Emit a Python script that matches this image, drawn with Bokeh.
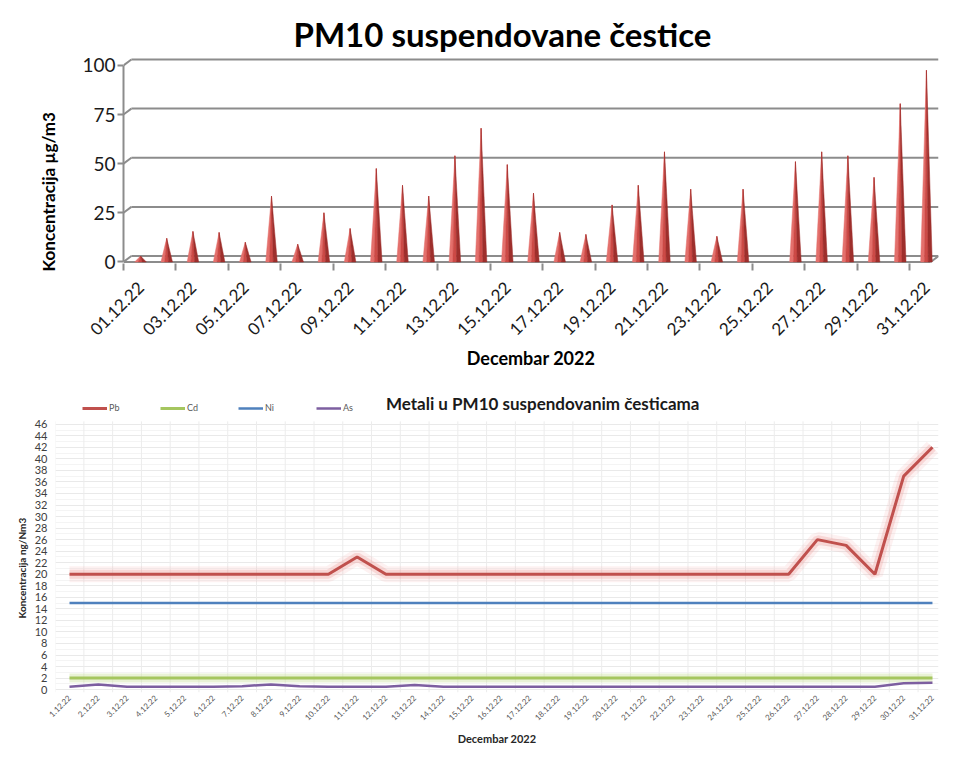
import math
from bokeh.plotting import figure
from bokeh.layouts import column
from bokeh.models import FixedTicker, Legend, LegendItem, Range1d, Title, Label
from bokeh.embed import file_html
from bokeh.resources import INLINE

# ---------------- data ----------------
days = list(range(1, 32))
pm10 = [3, 12, 15.5, 15, 10, 33.5, 9, 25, 17, 47.5, 39, 33.5, 54, 68, 49.5, 35,
        15, 14, 29, 39, 56, 37, 13, 37, None, 51, 56, 54, 43, 80.5, 97.5]
pm10_tick_days = [1, 3, 5, 7, 9, 11, 13, 15, 17, 19, 21, 23, 25, 27, 29, 31]
pm10_tick_labels = ["01.12.22", "03.12.22", "05.12.22", "07.12.22", "09.12.22",
                    "11.12.22", "13.12.22", "15.12.22", "17.12.22", "19.12.22",
                    "21.12.22", "23.12.22", "25.12.22", "27.12.22", "29.12.22",
                    "31.12.22"]
pm10_y_ticks = [0, 25, 50, 75, 100]

metal_dates = ["1.12.22", "2.12.22", "3.12.22", "4.12.22", "5.12.22", "6.12.22",
               "7.12.22", "8.12.22", "9.12.22", "10.12.22", "11.12.22", "12.12.22",
               "13.12.22", "14.12.22", "15.12.22", "16.12.22", "17.12.22", "18.12.22",
               "19.12.22", "20.12.22", "21.12.22", "22.12.22", "23.12.22", "24.12.22",
               "25.12.22", "26.12.22", "27.12.22", "28.12.22", "29.12.22", "30.12.22",
               "31.12.22"]
pb = [20, 20, 20, 20, 20, 20, 20, 20, 20, 20, 23, 20, 20, 20, 20, 20, 20, 20, 20, 20,
      20, 20, 20, 20, 20, 20, 26, 25, 20, 37, 42]
cd = [2, 2, 2, 2, 2, 2, 2, 2, 2, 2, 2, 2, 2, 2, 2, 2, 2, 2, 2, 2, 2, 2, 2, 2, 2, 2,
      2, 2, 2, 2, 2]
ni = [15, 15, 15, 15, 15, 15, 15, 15, 15, 15, 15, 15, 15, 15, 15, 15, 15, 15, 15, 15,
      15, 15, 15, 15, 15, 15, 15, 15, 15, 15, 15]
as_ = [0.5, 0.9, 0.5, 0.5, 0.5, 0.5, 0.6, 0.9, 0.6, 0.5, 0.5, 0.5, 0.8, 0.5, 0.5, 0.5,
       0.5, 0.5, 0.5, 0.5, 0.5, 0.5, 0.5, 0.5, 0.5, 0.5, 0.5, 0.5, 0.5, 1.1, 1.2]
metal_y_ticks = list(range(0, 47, 2))

FONT = "Lato"
GRID = "#8c8c8c"

# ---------------- top: PM10 cones ----------------
X0, X1 = 0.35, 31.46
p1 = figure(width=940, height=380, x_range=Range1d(X0, X1), y_range=Range1d(-0.8, 104),
            output_backend="svg", toolbar_location=None, frame_align=False,
            min_border_left=123, min_border_right=2, min_border_top=57, min_border_bottom=117)
p1.outline_line_color = None
p1.xgrid.visible = False
p1.ygrid.visible = False
p1.title = Title(text="PM10 suspendovane čestice", text_font=FONT, text_font_size="33px",
                 text_font_style="bold", text_color="#000000", align="left", offset=170,
                 standoff=4, vertical_align="top")
p1.add_layout(Title(text="Koncentracija µg/m3", text_font=FONT, text_font_size="17px",
                    text_font_style="bold", text_color="#000000", align="left",
                    offset=-8, standoff=42), "left")

# 3D back-wall gridlines with slanted connectors
depth_dx, depth_dy = 0.3, 3.0
n = len(pm10_y_ticks)
p1.segment(x0=[X0 + depth_dx] * n, y0=[g + depth_dy for g in pm10_y_ticks],
           x1=[X1] * n, y1=[g + depth_dy for g in pm10_y_ticks],
           line_color=GRID, line_width=2)
p1.segment(x0=[X0] * n, y0=pm10_y_ticks,
           x1=[X0 + depth_dx] * n, y1=[g + depth_dy for g in pm10_y_ticks],
           line_color=GRID, line_width=2)
# front floor edge
p1.segment(x0=[X0], y0=[0], x1=[X1 - depth_dx], y1=[0], line_color=GRID, line_width=2)
p1.segment(x0=[X1 - depth_dx], y0=[0], x1=[X1], y1=[depth_dy], line_color=GRID, line_width=2)

# cones (three shaded facets each)
hw = 0.22
xl, yl, xm, ym, xr, yr = [], [], [], [], [], []
for d, v in zip(days, pm10):
    if v is None:
        continue
    xl.append([d - hw, d - 0.35 * hw, d]); yl.append([0, 0, v])
    xm.append([d - 0.35 * hw, d + 0.3 * hw, d]); ym.append([0, 0, v])
    xr.append([d + 0.3 * hw, d + hw, d]); yr.append([0, 0, v])
p1.patches(xl, yl, fill_color="#e4706c", line_color="#e4706c", line_width=0.5)
p1.patches(xm, ym, fill_color="#cc4a46", line_color="#cc4a46", line_width=0.5)
p1.patches(xr, yr, fill_color="#9e2f2c", line_color="#9e2f2c", line_width=0.5)

ya = p1.yaxis[0]
ya.ticker = FixedTicker(ticks=pm10_y_ticks)
ya.bounds = (0, 100)
ya.axis_line_color = GRID
ya.axis_line_width = 2
ya.major_tick_out = 6
ya.major_tick_in = 0
ya.major_tick_line_color = GRID
ya.major_tick_line_width = 2
ya.minor_tick_out = 0
ya.minor_tick_in = 0
ya.major_label_standoff = 2
ya.major_label_text_font = FONT
ya.major_label_text_font_size = "19px"
ya.major_label_text_color = "#1a1a1a"

xa = p1.xaxis[0]
xa.ticker = FixedTicker(ticks=pm10_tick_days,
                        minor_ticks=[X0 + 2 * k for k in range(16)])
xa.major_label_overrides = dict(zip(pm10_tick_days, pm10_tick_labels))
xa.axis_line_color = None
xa.major_tick_out = 0
xa.major_tick_in = 0
xa.minor_tick_out = 7
xa.minor_tick_in = 0
xa.minor_tick_line_color = GRID
xa.minor_tick_line_width = 2
xa.major_label_orientation = math.pi / 4
xa.major_label_standoff = 14
xa.major_label_text_font = FONT
xa.major_label_text_font_size = "17px"
xa.major_label_text_color = "#1a1a1a"
xa.axis_label = "Decembar 2022"
xa.axis_label_text_font = FONT
xa.axis_label_text_font_size = "18px"
xa.axis_label_text_font_style = "bold"
xa.axis_label_text_color = "#000000"
xa.axis_label_standoff = 3

# ---------------- bottom: metals ----------------
MX0, MX1 = 0.513, 31.21
p2 = figure(width=940, height=369, x_range=Range1d(MX0, MX1), y_range=Range1d(-0.5, 51.5),
            output_backend="svg", toolbar_location=None, frame_align=False,
            min_border_left=55, min_border_right=2, min_border_top=12, min_border_bottom=57)
p2.outline_line_color = None
p2.add_layout(Title(text="Koncentracija ng/Nm3", text_font=FONT, text_font_size="10px",
                    text_font_style="bold", text_color="#262626", align="left",
                    offset=74, standoff=8), "left")

# grid limited to the 0..46 plotting area
p2.ygrid.ticker = FixedTicker(ticks=metal_y_ticks, minor_ticks=list(range(1, 46, 2)))
p2.ygrid.grid_line_color = "#e9e9e9"
p2.ygrid.minor_grid_line_color = "#f4f4f4"
p2.xgrid.visible = False
vx = [d - 0.5 for d in days] + [31.5]
p2.segment(x0=vx, y0=[-0.5] * len(vx), x1=vx, y1=[46.5] * len(vx),
           line_color="#ececec", line_width=1)

p2.add_layout(Label(x=12.0, y=49.6, text="Metali u  PM10 suspendovanim česticama",
                    text_font=FONT, text_font_size="17px", text_font_style="bold",
                    text_color="#1a1a1a", text_baseline="middle", text_align="left"))

# glows
p2.line(days, pb, line_color="#f2a19e", line_width=16, line_alpha=0.15)
p2.line(days, pb, line_color="#ee9a97", line_width=9, line_alpha=0.3)
p2.line(days, cd, line_color="#cfe3a3", line_width=9, line_alpha=0.45)

r_pb = p2.line(days, pb, line_color="#c0504d", line_width=3)
r_cd = p2.line(days, cd, line_color="#a5c65f", line_width=3)
r_ni = p2.line(days, ni, line_color="#4f81bd", line_width=2.5)
r_as = p2.line(days, as_, line_color="#7d5fa0", line_width=2.5)

legend = Legend(items=[LegendItem(label="Pb", renderers=[r_pb]),
                       LegendItem(label="Cd", renderers=[r_cd]),
                       LegendItem(label="Ni", renderers=[r_ni]),
                       LegendItem(label="As", renderers=[r_as])],
                location=(27, 279), orientation="horizontal",
                glyph_width=25, glyph_height=10, label_standoff=2, label_width=20,
                spacing=31, padding=0, margin=0, border_line_color=None,
                background_fill_alpha=0, label_text_font=FONT, label_text_font_size="9px",
                label_text_color="#595959")
p2.add_layout(legend, "center")

ya2 = p2.yaxis[0]
ya2.ticker = FixedTicker(ticks=metal_y_ticks)
ya2.axis_line_color = None
ya2.major_tick_out = 0
ya2.major_tick_in = 0
ya2.minor_tick_out = 0
ya2.minor_tick_in = 0
ya2.major_label_standoff = 8
ya2.major_label_text_font = FONT
ya2.major_label_text_font_size = "11px"
ya2.major_label_text_color = "#404040"

xa2 = p2.xaxis[0]
xa2.ticker = FixedTicker(ticks=days)
xa2.major_label_overrides = dict(zip(days, metal_dates))
xa2.axis_line_color = None
xa2.major_tick_out = 0
xa2.major_tick_in = 0
xa2.minor_tick_out = 0
xa2.minor_tick_in = 0
xa2.major_label_orientation = math.pi / 4
xa2.major_label_standoff = 4
xa2.major_label_text_font = FONT
xa2.major_label_text_font_size = "8px"
xa2.major_label_text_color = "#595959"
xa2.axis_label = "Decembar 2022"
xa2.axis_label_text_font = FONT
xa2.axis_label_text_font_size = "11px"
xa2.axis_label_text_font_style = "bold"
xa2.axis_label_text_color = "#262626"
xa2.axis_label_standoff = 6

layout = column(p1, p2, spacing=0)
open("out.html", "w").write(file_html(layout, INLINE))
